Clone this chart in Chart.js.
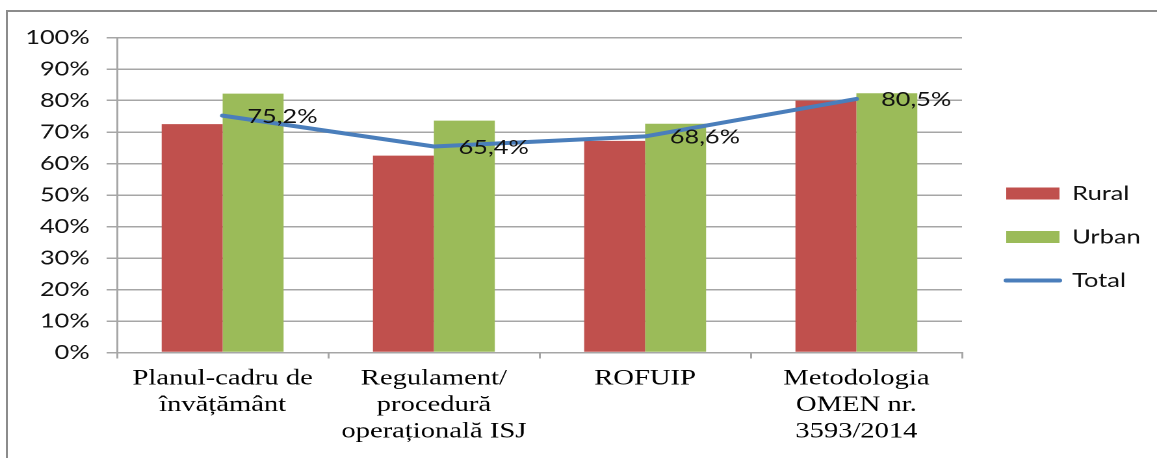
<!DOCTYPE html>
<html><head><meta charset="utf-8">
<script src="https://cdn.jsdelivr.net/npm/chart.js@4.4.1/dist/chart.umd.min.js"></script>
<style>
html,body{margin:0;padding:0;background:#fff;overflow:hidden;width:1157px;height:458px;}
#frame{position:absolute;left:6px;top:10px;width:1200px;height:500px;border:2px solid #8c8c8c;box-sizing:border-box;}
#wrap{position:absolute;left:0;top:0;width:890px;height:458px;transform:scaleX(1.3);transform-origin:0 0;}
</style></head><body>
<div id="frame"></div>
<div id="wrap"><canvas id="c"></canvas></div>
<script>
const categories = [
  ["Planul-cadru de", "învățământ"],
  ["Regulament/", "procedură", "operațională ISJ"],
  ["ROFUIP"],
  ["Metodologia", "OMEN nr.", "3593/2014"]
];
const seriesNames = ["Rural", "Urban", "Total"];
const rural = [72.5, 62.5, 67.2, 80.0];
const urban = [82.2, 73.6, 72.6, 82.3];
const total = [75.2, 65.4, 68.6, 80.5];
const yTickLabels = ["0%","10%","20%","30%","40%","50%","60%","70%","80%","90%","100%"];

const RED = '#C0504D', GREEN = '#9BBB59', BLUE = '#4A7EBB', GRID = '#a6a6a6';
const fmt = v => v.toFixed(1).replace('.', ',') + '%';

const layoutFix = {
  id: 'layoutFix',
  beforeLayout(chart) {
    const lg = chart.legend;
    if (lg && !lg._patched) {
      const fit = lg.fit.bind(lg);
      lg.fit = function () { fit(); this.width = 150; };
      lg._patched = true;
    }
  },
  afterLayout(chart) {
    const lg = chart.legend;
    if (!lg) return;
    lg.left = 750;
    const shift = 237 - (lg.top + lg.bottom) / 2;
    lg.top += shift; lg.bottom += shift;
  }
};

const totalLabels = {
  id: 'totalLabels',
  afterDatasetsDraw(chart) {
    const meta = chart.getDatasetMeta(0);
    const ctx = chart.ctx;
    ctx.save();
    ctx.font = '19.5px Lato';
    ctx.fillStyle = '#111';
    ctx.textAlign = 'left';
    ctx.textBaseline = 'middle';
    meta.data.forEach((pt, i) => ctx.fillText(fmt(total[i]), pt.x + 19, pt.y + 1));
    ctx.restore();
  }
};

new Chart(document.getElementById('c'), {
  type: 'bar',
  data: {
    labels: categories,
    datasets: [
      { type: 'line', label: seriesNames[2], data: total, borderColor: BLUE, backgroundColor: BLUE,
        borderWidth: 4, pointRadius: 0, tension: 0, fill: false, borderCapStyle: 'round' },
      { label: seriesNames[0], data: rural, backgroundColor: RED, borderWidth: 0,
        categoryPercentage: 0.577, barPercentage: 1 },
      { label: seriesNames[1], data: urban, backgroundColor: GREEN, borderWidth: 0,
        categoryPercentage: 0.577, barPercentage: 1 }
    ]
  },
  options: {
    responsive: true,
    maintainAspectRatio: false,
    animation: false,
    devicePixelRatio: 2,
    layout: { padding: { top: 37.5, bottom: 13, left: 0, right: 0 } },
    plugins: {
      tooltip: { enabled: false },
      legend: {
        position: 'right',
        align: 'center',
        labels: {
          usePointStyle: true,
          pointStyleWidth: 41,
          boxWidth: 41,
          boxHeight: 12,
          padding: 24,
          color: '#111',
          font: { family: 'Lato', size: 19.5 },
          generateLabels() {
            return [
              { text: seriesNames[0], fillStyle: RED, strokeStyle: RED, lineWidth: 0, pointStyle: 'rect', datasetIndex: 1, hidden: false, fontColor: '#111' },
              { text: seriesNames[1], fillStyle: GREEN, strokeStyle: GREEN, lineWidth: 0, pointStyle: 'rect', datasetIndex: 2, hidden: false, fontColor: '#111' },
              { text: seriesNames[2], fillStyle: 'rgba(0,0,0,0)', strokeStyle: BLUE, lineWidth: 4, lineCap: 'round', pointStyle: 'line', datasetIndex: 0, hidden: false, fontColor: '#111' }
            ];
          }
        }
      }
    },
    scales: {
      x: {
        afterFit(s) { s.height = 92.5; },
        grid: { display: true, drawOnChartArea: false, drawTicks: true, tickLength: 6, color: GRID, lineWidth: 1.5 },
        border: { display: true, color: GRID, width: 1.5 },
        ticks: { color: '#000', font: { family: 'Liberation Serif', size: 22, lineHeight: 1.2 },
                 padding: 7, maxRotation: 0, autoSkip: false }
      },
      y: {
        min: 0, max: 100,
        afterFit(s) { s.width = 90; },
        grid: { color: GRID, lineWidth: 1.5, drawTicks: true, tickLength: 8 },
        border: { display: true, color: GRID, width: 1.5 },
        ticks: { stepSize: 10, padding: 13, color: '#111', font: { family: 'Lato', size: 19.5 },
                 callback: (v, i) => yTickLabels[i] }
      }
    }
  },
  plugins: [layoutFix, totalLabels]
});
</script>
</body></html>
